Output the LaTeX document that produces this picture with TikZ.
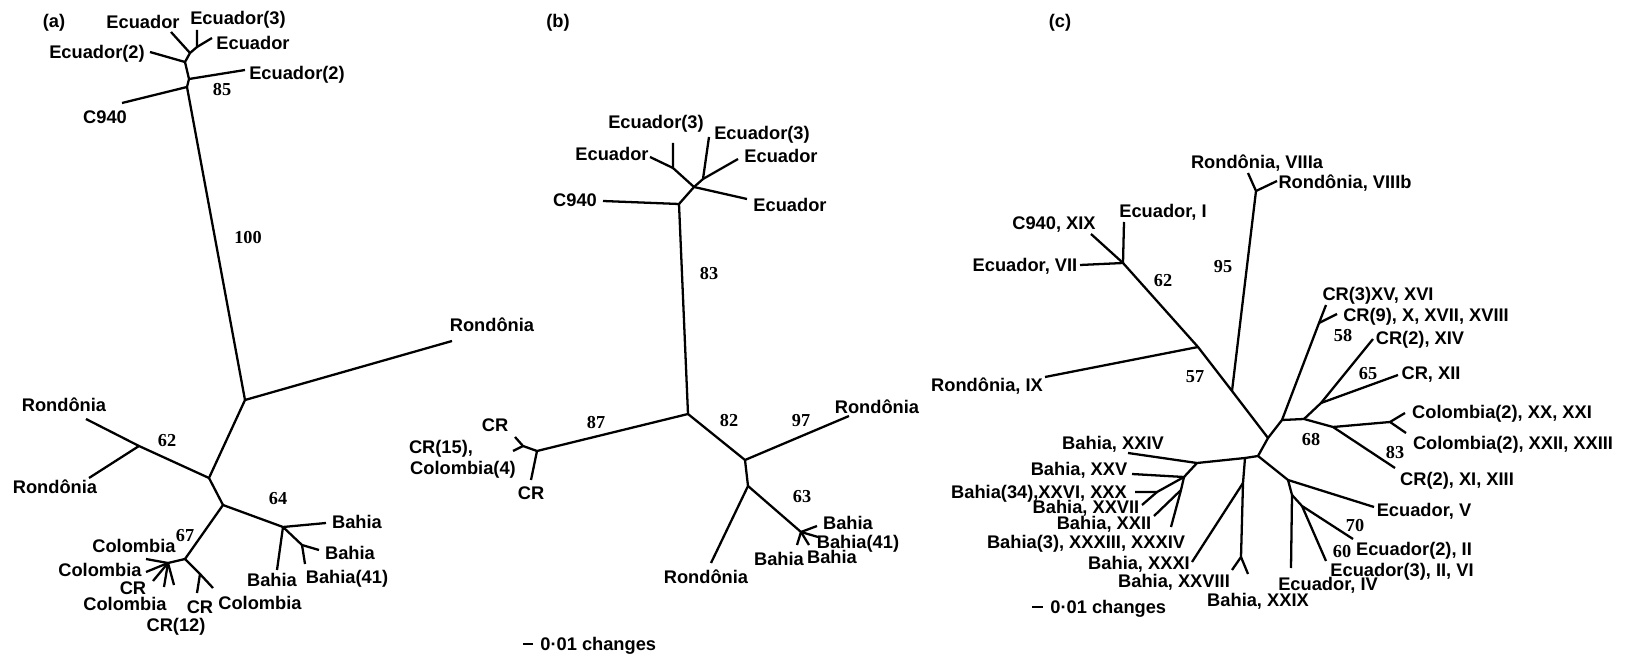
\documentclass[tikz,border=0pt]{standalone}
\usepackage{fontspec}
\setsansfont{Liberation Sans}
\newfontfamily\numfont{Liberation Serif}
\usepackage{tikz}
\usetikzlibrary{positioning}

\begin{document}
\begin{tikzpicture}[
        x=0.02cm, y=-0.02cm,
        lbl/.style={inner sep=0pt, text height=7.5pt, text depth=0pt, font=\sffamily\bfseries\fontsize{10.4}{12}\selectfont},
        bs/.style={inner sep=0pt, text height=7pt, text depth=0pt, font=\numfont\bfseries\fontsize{10.4}{12}\selectfont},
        branch/.style={line width=1.3pt, line join=round}
    ]
    \useasboundingbox (0,0) rectangle (1629,658);

    % (a)
    \node[lbl] (pa) at (54,21) {(a)};
    \coordinate (a1) at (190,53);   \coordinate (a1b) at (197,47);
    \coordinate (a2) at (185,62);   \coordinate (a3) at (189,79);
    \coordinate (a4) at (187,87);   \coordinate (a5) at (245,400);
    \coordinate (a6) at (209,478);  \coordinate (a7) at (139,446);
    \coordinate (a8) at (223,505);  \coordinate (a9) at (283,527);
    \coordinate (a9b) at (302,545); \coordinate (a10) at (185,559);
    \coordinate (a11) at (200,574); \coordinate (a12) at (168,563);
    \coordinate (ta1) at (171,32);  \coordinate (ta2) at (197,30);
    \coordinate (ta3) at (212,38);  \coordinate (ta4) at (150,52);
    \coordinate (ta5) at (245,70);  \coordinate (ta6) at (122,103);
    \coordinate (ta7) at (452,341); \coordinate (ta8) at (86,419);
    \coordinate (ta9) at (89,478);  \coordinate (ta10) at (326,523);
    \coordinate (ta11) at (319,550); \coordinate (ta12) at (305,564);
    \coordinate (ta13) at (277,570); \coordinate (ta14) at (213,588);
    \coordinate (ta15) at (197,593); \coordinate (ta16) at (146,559);
    \coordinate (ta17) at (146,572); \coordinate (ta18) at (153,581);
    \coordinate (ta19) at (164,587); \coordinate (ta20) at (174,585);

    \draw[branch] (ta1) -- (a1) -- (a2) -- (a3) -- (a4) -- (a5) -- (a6) -- (a8) -- (a9) -- (ta10);
    \draw[branch] (a1) -- (a1b) -- (ta2);
    \draw[branch] (a1b) -- (ta3);
    \draw[branch] (a2) -- (ta4);
    \draw[branch] (a3) -- (ta5);
    \draw[branch] (a4) -- (ta6);
    \draw[branch] (a5) -- (ta7);
    \draw[branch] (ta8) -- (a7) -- (a6);
    \draw[branch] (a7) -- (ta9);
    \draw[branch] (a9) -- (a9b) -- (ta11);
    \draw[branch] (a9b) -- (ta12);
    \draw[branch] (a9) -- (ta13);
    \draw[branch] (a8) -- (a10) -- (a11) -- (ta14);
    \draw[branch] (a11) -- (ta15);
    \draw[branch] (a10) -- (a12);
    \foreach \t in {ta16,ta17,ta18,ta19,ta20}
        \draw[branch] (a12) -- (\t);

    \node[lbl] (la1) at (143,22) {Ecuador};
    \node[lbl] (la2) at (238,18) {Ecuador(3)};
    \node[lbl] (la3) at (253,43) {Ecuador};
    \node[lbl] (la4) at (97,52) {Ecuador(2)};
    \node[lbl] (la5) at (297,73) {Ecuador(2)};
    \node[lbl] (la6) at (105,117) {C940};
    \node[lbl] (la7) at (492,325) {Rondônia};
    \node[lbl] (la8) at (64,405) {Rondônia};
    \node[lbl] (la9) at (55,487) {Rondônia};
    \node[lbl] (la10) at (357,522) {Bahia};
    \node[lbl] (la11) at (350,553) {Bahia};
    \node[lbl] (la12) at (347,577) {Bahia(41)};
    \node[lbl] (la13) at (272,580) {Bahia};
    \node[lbl] (la14) at (260,603) {Colombia};
    \node[lbl] (la15) at (200,607) {CR};
    \node[lbl] (la16) at (134,546) {Colombia};
    \node[lbl] (la17) at (100,570) {Colombia};
    \node[lbl] (la18) at (133,588) {CR};
    \node[lbl] (la19) at (125,604) {Colombia};
    \node[lbl] (la20) at (176,625) {CR(12)};
    \node[bs] (na1) at (222,89) {85};
    \node[bs] (na2) at (248,237) {100};
    \node[bs] (na3) at (167,440) {62};
    \node[bs] (na4) at (278,498) {64};
    \node[bs] (na5) at (185,535) {67};

    % (b)
    \node[lbl] (pb) at (558,21) {(b)};
    \coordinate (b1) at (679,204);  \coordinate (b2) at (694,187);
    \coordinate (b3) at (703,179);  \coordinate (b4) at (673,168);
    \coordinate (b5) at (688,414);  \coordinate (b6) at (537,451);
    \coordinate (b6b) at (523,446); \coordinate (b7) at (745,460);
    \coordinate (b8) at (748,486);  \coordinate (b9) at (801,532);
    \coordinate (tb1) at (603,201); \coordinate (tb2) at (747,199);
    \coordinate (tb3) at (709,137); \coordinate (tb4) at (738,159);
    \coordinate (tb5) at (673,143); \coordinate (tb6) at (650,157);
    \coordinate (tb7) at (515,437); \coordinate (tb8) at (513,451);
    \coordinate (tb9) at (531,480); \coordinate (tb10) at (849,416);
    \coordinate (tb11) at (711,563); \coordinate (tb12) at (817,526);
    \coordinate (tb13) at (818,537); \coordinate (tb14) at (797,545);
    \coordinate (tb15) at (809,545);

    \draw[branch] (tb1) -- (b1) -- (b5) -- (b7) -- (tb10);
    \draw[branch] (b1) -- (b2) -- (tb2);
    \draw[branch] (b2) -- (b3) -- (tb3);
    \draw[branch] (b3) -- (tb4);
    \draw[branch] (b2) -- (b4) -- (tb5);
    \draw[branch] (b4) -- (tb6);
    \draw[branch] (b5) -- (b6) -- (b6b) -- (tb7);
    \draw[branch] (b6b) -- (tb8);
    \draw[branch] (b6) -- (tb9);
    \draw[branch] (b7) -- (b8) -- (tb11);
    \draw[branch] (b8) -- (b9);
    \foreach \t in {tb12,tb13,tb14,tb15}
        \draw[branch] (b9) -- (\t);

    \node[lbl] (lb1) at (575,200) {C940};
    \node[lbl] (lb2) at (790,205) {Ecuador};
    \node[lbl] (lb3) at (762,133) {Ecuador(3)};
    \node[lbl] (lb4) at (781,156) {Ecuador};
    \node[lbl] (lb5) at (656,122) {Ecuador(3)};
    \node[lbl] (lb6) at (612,154) {Ecuador};
    \node[lbl] (lb7) at (495,425) {CR};
    \node[lbl] (lb8) at (441,447) {CR(15),};
    \node[lbl] (lb8b) at (463,468) {Colombia(4)};
    \node[lbl] (lb9) at (531,493) {CR};
    \node[lbl] (lb10) at (877,407) {Rondônia};
    \node[lbl] (lb11) at (706,577) {Rondônia};
    \node[lbl] (lb12) at (848,523) {Bahia};
    \node[lbl] (lb13) at (858,542) {Bahia(41)};
    \node[lbl] (lb14) at (779,559) {Bahia};
    \node[lbl] (lb15) at (832,557) {Bahia};
    \node[bs] (nb1) at (709,273) {83};
    \node[bs] (nb2) at (596,422) {87};
    \node[bs] (nb3) at (729,420) {82};
    \node[bs] (nb4) at (801,420) {97};
    \node[bs] (nb5) at (802,496) {63};

    \coordinate (sb1) at (523,644); \coordinate (sb2) at (533,644);
    \draw[branch] (sb1) -- (sb2);
    \node[lbl, right=4pt of sb2] (scb) {0·01 changes};

    % (c)
    \node[lbl] (pc) at (1060,21) {(c)};
    \coordinate (c1) at (1123,263);  \coordinate (c2) at (1198,347);
    \coordinate (c3) at (1232,391);  \coordinate (c3b) at (1256,191);
    \coordinate (c4) at (1268,438);  \coordinate (c5) at (1282,420);
    \coordinate (c5b) at (1319,323); \coordinate (c6) at (1304,419);
    \coordinate (c7) at (1321,403);  \coordinate (c8) at (1333,427);
    \coordinate (c9) at (1390,422);  \coordinate (c10) at (1258,456);
    \coordinate (c11) at (1245,458); \coordinate (c11b) at (1243,483);
    \coordinate (c12) at (1241,557); \coordinate (c13) at (1197,463);
    \coordinate (c14) at (1184,477); \coordinate (c18) at (1157,492);
    \coordinate (c19) at (1181,490); \coordinate (c15) at (1288,480);
    \coordinate (c16) at (1292,495); \coordinate (c17) at (1302,506);
    \coordinate (tc1) at (1091,234);  \coordinate (tc2) at (1124,222);
    \coordinate (tc3) at (1080,265);  \coordinate (tc4) at (1045,377);
    \coordinate (tc5) at (1248,173);  \coordinate (tc6) at (1277,181);
    \coordinate (tc7) at (1326,305);  \coordinate (tc8) at (1337,314);
    \coordinate (tc9) at (1373,339);  \coordinate (tc10) at (1398,375);
    \coordinate (tc11) at (1405,413); \coordinate (tc12) at (1406,433);
    \coordinate (tc13) at (1395,468); \coordinate (tc14) at (1374,507);
    \coordinate (tc15) at (1291,568); \coordinate (tc16) at (1353,539);
    \coordinate (tc17) at (1326,561); \coordinate (tc18) at (1128,453);
    \coordinate (tc19) at (1132,474); \coordinate (tc20) at (1135,492);
    \coordinate (tc21) at (1142,505); \coordinate (tc22) at (1154,516);
    \coordinate (tc23) at (1171,527); \coordinate (tc24) at (1192,562);
    \coordinate (tc25) at (1232,570); \coordinate (tc26) at (1248,574);

    \draw[branch] (tc1) -- (c1) -- (c2) -- (c3) -- (c4) -- (c5) -- (c6) -- (c8) -- (tc13);
    \draw[branch] (c1) -- (tc2);
    \draw[branch] (c1) -- (tc3);
    \draw[branch] (c2) -- (tc4);
    \draw[branch] (c3) -- (c3b) -- (tc5);
    \draw[branch] (c3b) -- (tc6);
    \draw[branch] (c5) -- (c5b) -- (tc7);
    \draw[branch] (c5b) -- (tc8);
    \draw[branch] (c6) -- (c7) -- (tc9);
    \draw[branch] (c7) -- (tc10);
    \draw[branch] (c8) -- (c9) -- (tc11);
    \draw[branch] (c9) -- (tc12);
    \draw[branch] (c4) -- (c10) -- (c11) -- (c13) -- (tc18);
    \draw[branch] (c11) -- (c11b) -- (c12) -- (tc25);
    \draw[branch] (c12) -- (tc26);
    \draw[branch] (c11b) -- (tc24);
    \draw[branch] (c13) -- (c14) -- (tc19);
    \draw[branch] (c14) -- (c18) -- (tc20);
    \draw[branch] (c18) -- (tc21);
    \draw[branch] (c14) -- (c19) -- (tc22);
    \draw[branch] (c19) -- (tc23);
    \draw[branch] (c10) -- (c15) -- (tc14);
    \draw[branch] (c15) -- (c16) -- (tc15);
    \draw[branch] (c16) -- (c17) -- (tc16);
    \draw[branch] (c17) -- (tc17);

    \node[lbl] (lc1) at (1054,223) {C940, XIX};
    \node[lbl] (lc2) at (1163,211) {Ecuador, I};
    \node[lbl] (lc3) at (1025,265) {Ecuador, VII};
    \node[lbl] (lc4) at (987,385) {Rondônia, IX};
    \node[lbl] (lc5) at (1257,162) {Rondônia, VIIIa};
    \node[lbl] (lc6) at (1345,182) {Rondônia, VIIIb};
    \node[lbl] (lc7) at (1378,294) {CR(3)XV, XVI};
    \node[lbl] (lc8) at (1426,315) {CR(9), X, XVII, XVIII};
    \node[lbl] (lc9) at (1420,338) {CR(2), XIV};
    \node[lbl] (lc10) at (1431,373) {CR, XII};
    \node[lbl] (lc11) at (1502,412) {Colombia(2), XX, XXI};
    \node[lbl] (lc12) at (1513,443) {Colombia(2), XXII, XXIII};
    \node[lbl] (lc13) at (1457,479) {CR(2), XI, XIII};
    \node[lbl] (lc14) at (1424,510) {Ecuador, V};
    \node[lbl] (lc15) at (1328,584) {Ecuador, IV};
    \node[lbl] (lc16) at (1414,549) {Ecuador(2), II};
    \node[lbl] (lc17) at (1402,570) {Ecuador(3), II, VI};
    \node[lbl] (lc18) at (1113,443) {Bahia, XXIV};
    \node[lbl] (lc19) at (1079,469) {Bahia, XXV};
    \node[lbl] (lc20) at (1039,492) {Bahia(34),XXVI, XXX};
    \node[lbl] (lc21) at (1086,507) {Bahia, XXVII};
    \node[lbl] (lc22) at (1104,523) {Bahia, XXII};
    \node[lbl] (lc23) at (1086,542) {Bahia(3), XXXIII, XXXIV};
    \node[lbl] (lc24) at (1139,563) {Bahia, XXXI};
    \node[lbl] (lc25) at (1174,581) {Bahia, XXVIII};
    \node[lbl] (lc26) at (1258,600) {Bahia, XXIX};
    \node[bs] (nc1) at (1163,280) {62};
    \node[bs] (nc2) at (1223,266) {95};
    \node[bs] (nc3) at (1195,376) {57};
    \node[bs] (nc4) at (1343,335) {58};
    \node[bs] (nc5) at (1368,373) {65};
    \node[bs] (nc6) at (1311,439) {68};
    \node[bs] (nc7) at (1395,452) {83};
    \node[bs] (nc8) at (1355,525) {70};
    \node[bs] (nc9) at (1342,551) {60};

    \coordinate (sc1) at (1032,607); \coordinate (sc2) at (1043,607);
    \draw[branch] (sc1) -- (sc2);
    \node[lbl, right=4pt of sc2] (scc) {0·01 changes};
\end{tikzpicture}
\end{document}
